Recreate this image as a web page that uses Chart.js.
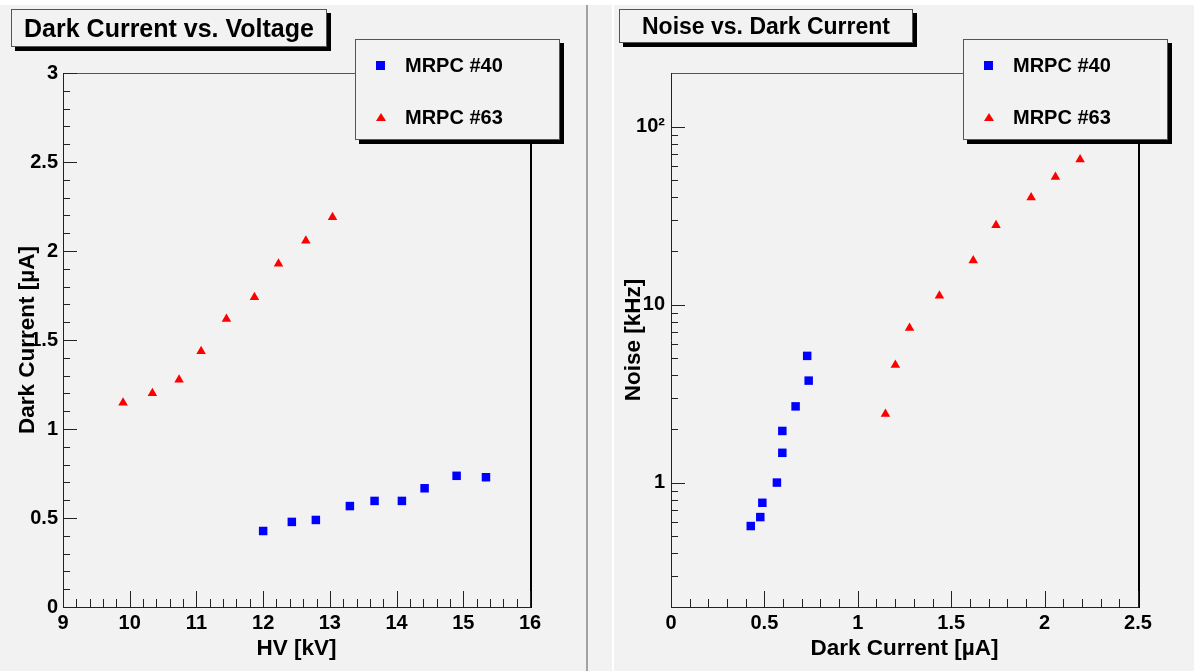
<!DOCTYPE html>
<html>
<head>
<meta charset="utf-8">
<title>MRPC Dark Current and Noise</title>
<script src="https://cdn.jsdelivr.net/npm/chart.js@4.4.1/dist/chart.umd.min.js"></script>
<style>
    html, body { margin: 0; padding: 0; }
    body {
        position: relative;
        width: 1194px;
        height: 671px;
        overflow: hidden;
        background: #f2f2f2;
        font-family: "Liberation Sans", Arial, Helvetica, sans-serif;
        font-weight: bold;
        color: #000;
    }
    .strip { position: absolute; left: 0; top: 0; width: 1194px; height: 5px; background: #fff; }
    .edge { position: absolute; top: 5px; width: 2px; height: 666px; }
    canvas { position: absolute; top: 5px; }
    .pave {
        position: absolute;
        box-sizing: border-box;
        background: #f2f2f2;
        border: 1px solid #555;
        box-shadow: 4px 4px 0 #000;
    }
    .pave-title {
        display: flex;
        align-items: center;
        justify-content: center;
        white-space: nowrap;
    }
    .legend-row {
        position: absolute;
        left: 0;
        width: 100%;
        height: 24px;
    }
    .legend-row span {
        position: absolute;
        left: 49px;
        top: 0;
        line-height: 24px;
        font-size: 20px;
        white-space: nowrap;
    }
    .mk-rect {
        position: absolute;
        left: 20px;
        top: 8px;
        width: 9px;
        height: 9px;
    }
    .mk-triangle {
        position: absolute;
        left: 20px;
        top: 8px;
        width: 0;
        height: 0;
        border-left: 5px solid transparent;
        border-right: 5px solid transparent;
        border-bottom: 8px solid #ff0000;
    }
</style>
</head>
<body>
<div class="strip"></div>
<div class="edge" style="left:586px;background:#a3a3a3;"></div>
<div class="edge" style="left:612px;background:#ffffff;"></div>

<canvas id="chartVoltage" width="581" height="666" style="left:5px;"></canvas>
<canvas id="chartNoise" width="580" height="666" style="left:614px;"></canvas>

<div class="pave pave-title" style="left:11px;top:9px;width:316px;height:38px;font-size:25px;">Dark Current vs. Voltage</div>
<div class="pave pave-title" style="left:619px;top:9px;width:294px;height:34px;font-size:23px;">Noise vs. Dark Current</div>

<div class="pave" id="legendVoltage" style="left:355px;top:39px;width:205px;height:101px;"></div>
<div class="pave" id="legendNoise" style="left:963px;top:39px;width:205px;height:101px;"></div>

<script>
// Etiquetas de los ejes
const hvTicks = [9, 10, 11, 12, 13, 14, 15, 16];
const currentTicks = [0, 0.5, 1, 1.5, 2, 2.5, 3];
const currentAxisTicks = [0, 0.5, 1, 1.5, 2, 2.5];
const noiseTicks = [1, 10, 100];
const noiseTickLabels = ['1', '10', '10²'];

// Series
const seriesNames = ['MRPC #40', 'MRPC #63'];

// MRPC #40
const hv40 = [12.0, 12.43, 12.79, 13.30, 13.67, 14.08, 14.42, 14.90, 15.34];
const current40 = [0.427, 0.478, 0.489, 0.567, 0.596, 0.596, 0.667, 0.737, 0.729];
const noise40 = [0.57, 0.64, 0.77, 1.00, 1.47, 1.95, 2.68, 3.74, 5.15];

// MRPC #63
const hv63 = [9.90, 10.34, 10.74, 11.07, 11.45, 11.87, 12.23, 12.64, 13.04];
const current63 = [1.148, 1.201, 1.277, 1.437, 1.618, 1.740, 1.928, 2.058, 2.190];
const noise63 = [2.43, 4.57, 7.39, 11.2, 17.7, 27.9, 40.0, 52.1, 65.3];

const COLORS = {
    blue: '#0000ff',
    red: '#ff0000',
    axis: '#222222',
    frame: '#555555'
};

const FONT_FAMILY = '"Liberation Sans", Arial, Helvetica, sans-serif';
const tickFont = { family: FONT_FAMILY, size: 20, weight: 'bold' };
const titleFont = { family: FONT_FAMILY, size: 22.5, weight: 'bold' };

/**
 * Pares x/y para Chart.js
 */
function toPoints(xs, ys) {
    return xs.map((x, i) => ({ x: x, y: ys[i] }));
}

/**
 * Marcas menores lineales (5 divisiones por marca mayor)
 */
function linearMinor(majors) {
    const out = [];
    for (let i = 0; i < majors.length - 1; i++) {
        const step = (majors[i + 1] - majors[i]) / 5;
        for (let k = 1; k < 5; k++) out.push(majors[i] + k * step);
    }
    return out;
}

/**
 * Marcas menores logaritmicas (2..9 en cada decada)
 */
function logMinor(min, max) {
    const out = [];
    for (let d = Math.floor(Math.log10(min)); d <= Math.ceil(Math.log10(max)); d++) {
        for (let k = 2; k <= 9; k++) {
            const v = k * Math.pow(10, d);
            if (v > min && v < max) out.push(v);
        }
    }
    return out;
}

/**
 * Marco estilo ROOT: ticks hacia dentro, solo abajo e izquierda
 */
const rootFrame = {
    id: 'rootFrame',
    beforeDatasetsDraw(chart, args, opts) {
        const ctx = chart.ctx;
        const a = chart.chartArea;
        const L = Math.round(a.left), R = Math.round(a.right);
        const T = Math.round(a.top), B = Math.round(a.bottom);
        const xs = chart.scales.x, ys = chart.scales.y;
        const xLen = 16, yLen = 14;

        ctx.save();
        ctx.lineWidth = 1;

        // marco superior
        ctx.strokeStyle = COLORS.frame;
        ctx.beginPath();
        ctx.moveTo(L, T + 0.5);
        ctx.lineTo(R, T + 0.5);
        ctx.stroke();

        // borde derecho
        ctx.strokeStyle = '#000';
        ctx.lineWidth = 2;
        ctx.beginPath();
        ctx.moveTo(R + 1, T);
        ctx.lineTo(R + 1, B + 1);
        ctx.stroke();

        // ejes
        ctx.lineWidth = 1;
        ctx.strokeStyle = COLORS.axis;
        ctx.beginPath();
        ctx.moveTo(L + 0.5, T);
        ctx.lineTo(L + 0.5, B + 1);
        ctx.moveTo(L, B + 0.5);
        ctx.lineTo(R + 1, B + 0.5);

        opts.xMajor.forEach(v => {
            const px = Math.round(xs.getPixelForValue(v)) + 0.5;
            ctx.moveTo(px, B);
            ctx.lineTo(px, B - xLen);
        });
        opts.xMinor.forEach(v => {
            const px = Math.round(xs.getPixelForValue(v)) + 0.5;
            ctx.moveTo(px, B);
            ctx.lineTo(px, B - xLen / 2);
        });
        opts.yMajor.forEach(v => {
            const py = Math.round(ys.getPixelForValue(v)) + 0.5;
            ctx.moveTo(L, py);
            ctx.lineTo(L + yLen, py);
        });
        opts.yMinor.forEach(v => {
            const py = Math.round(ys.getPixelForValue(v)) + 0.5;
            ctx.moveTo(L, py);
            ctx.lineTo(L + yLen / 2, py);
        });
        ctx.stroke();
        ctx.restore();
    }
};

/**
 * Datasets comunes para ambas graficas
 */
function makeDatasets(xs40, ys40, xs63, ys63) {
    return [{
        label: seriesNames[0],
        data: toPoints(xs40, ys40),
        pointStyle: 'rect',
        pointRadius: 6,
        pointBackgroundColor: COLORS.blue,
        pointBorderWidth: 0,
        borderColor: COLORS.blue,
        backgroundColor: COLORS.blue
    }, {
        label: seriesNames[1],
        data: toPoints(xs63, ys63),
        pointStyle: 'triangle',
        pointRadius: 5.5,
        pointBackgroundColor: COLORS.red,
        pointBorderWidth: 0,
        borderColor: COLORS.red,
        backgroundColor: COLORS.red
    }];
}

function axisTitle(text, padding) {
    return { display: true, text: text, color: '#000', font: titleFont, padding: padding };
}

function baseOptions(scales, frameTicks) {
    return {
        responsive: false,
        animation: false,
        devicePixelRatio: 1,
        layout: { padding: { left: 0, top: 68, right: 56, bottom: 0 } },
        plugins: {
            legend: { display: false },
            tooltip: { enabled: false },
            rootFrame: frameTicks
        },
        scales: scales
    };
}

/**
 * Leyenda HTML a partir de los datasets
 */
function buildLegend(chart, elId) {
    const box = document.getElementById(elId);
    chart.data.datasets.forEach((ds, i) => {
        const row = document.createElement('div');
        row.className = 'legend-row';
        row.style.top = (13 + i * 52) + 'px';
        const mk = document.createElement('div');
        if (ds.pointStyle === 'rect') {
            mk.className = 'mk-rect';
            mk.style.background = ds.pointBackgroundColor;
        } else {
            mk.className = 'mk-triangle';
        }
        const label = document.createElement('span');
        label.textContent = ds.label;
        row.appendChild(mk);
        row.appendChild(label);
        box.appendChild(row);
    });
}

// Dark Current vs. Voltage
const chartVoltage = new Chart(document.getElementById('chartVoltage'), {
    type: 'scatter',
    data: { datasets: makeDatasets(hv40, current40, hv63, current63) },
    options: baseOptions({
        x: {
            type: 'linear',
            min: 9,
            max: 16,
            afterBuildTicks: s => { s.ticks = hvTicks.map(v => ({ value: v })); },
            afterFit: s => { s.height = 64; },
            grid: { display: false, drawTicks: false },
            border: { display: false },
            ticks: { color: '#000', font: tickFont, padding: 4, maxRotation: 0, autoSkip: false,
                      callback: v => String(v) },
            title: axisTitle('HV [kV]', { top: 0, bottom: 9 })
        },
        y: {
            type: 'linear',
            min: 0,
            max: 3,
            afterBuildTicks: s => { s.ticks = currentTicks.map(v => ({ value: v })); },
            afterFit: s => { s.width = 58; },
            grid: { display: false, drawTicks: false },
            border: { display: false },
            ticks: { color: '#000', font: tickFont, padding: 5, autoSkip: false,
                      callback: v => String(v) },
            title: axisTitle('Dark Current [\u00b5A]', { top: 9, bottom: 0 })
        }
    }, {
        xMajor: hvTicks, xMinor: linearMinor(hvTicks),
        yMajor: currentTicks, yMinor: linearMinor(currentTicks)
    }),
    plugins: [rootFrame]
});

// Noise vs. Dark Current
const chartNoise = new Chart(document.getElementById('chartNoise'), {
    type: 'scatter',
    data: { datasets: makeDatasets(current40, noise40, current63, noise63) },
    options: baseOptions({
        x: {
            type: 'linear',
            min: 0,
            max: 2.5,
            afterBuildTicks: s => { s.ticks = currentAxisTicks.map(v => ({ value: v })); },
            afterFit: s => { s.height = 64; },
            grid: { display: false, drawTicks: false },
            border: { display: false },
            ticks: { color: '#000', font: tickFont, padding: 4, maxRotation: 0, autoSkip: false,
                      callback: v => String(v) },
            title: axisTitle('Dark Current [\u00b5A]', { top: 0, bottom: 9 })
        },
        y: {
            type: 'logarithmic',
            min: 0.2,
            max: 200,
            afterBuildTicks: s => { s.ticks = noiseTicks.map(v => ({ value: v })); },
            afterFit: s => { s.width = 57; },
            grid: { display: false, drawTicks: false },
            border: { display: false },
            ticks: { color: '#000', font: tickFont, padding: 6, autoSkip: false,
                      callback: (v, i) => noiseTickLabels[i] },
            title: axisTitle('Noise [kHz]', { top: 6, bottom: 0 })
        }
    }, {
        xMajor: currentAxisTicks, xMinor: linearMinor(currentAxisTicks),
        yMajor: noiseTicks, yMinor: logMinor(0.2, 200)
    }),
    plugins: [rootFrame]
});

buildLegend(chartVoltage, 'legendVoltage');
buildLegend(chartNoise, 'legendNoise');
</script>
</body>
</html>
